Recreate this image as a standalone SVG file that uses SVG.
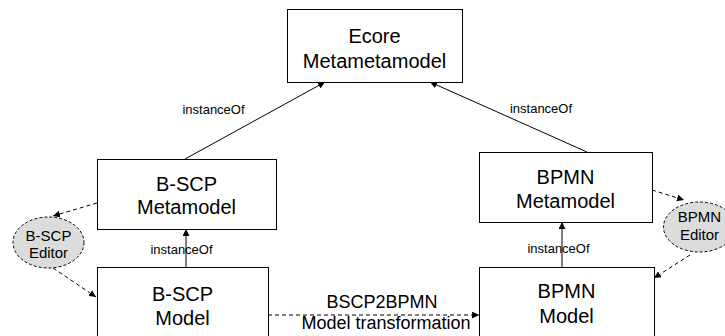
<svg xmlns="http://www.w3.org/2000/svg" width="725" height="336" viewBox="0 0 725 336">
<defs>
<marker id="ah" viewBox="0 0 8 8" refX="8" refY="4" markerWidth="7" markerHeight="7" markerUnits="userSpaceOnUse" orient="auto">
<path d="M0,0 L8,4 L0,8 z" fill="#000"/>
</marker>
</defs>
<style>
.box{fill:#fff;stroke:#000;stroke-width:1}
.ed{fill:#dcdcdc;stroke:#000;stroke-width:1;stroke-dasharray:3,2}
.t{font-family:"Liberation Sans",Arial,sans-serif;font-size:20px;fill:#000;text-anchor:middle}
.te{font-family:"Liberation Sans",Arial,sans-serif;font-size:15px;fill:#000;text-anchor:middle}
.tl{font-family:"Liberation Sans",Arial,sans-serif;font-size:13px;fill:#000;text-anchor:middle}
.tx{font-family:"Liberation Sans",Arial,sans-serif;font-size:18px;fill:#000;text-anchor:middle}
.c{stroke:#000;stroke-width:1;fill:none;marker-end:url(#ah)}
.d{stroke:#000;stroke-width:1;fill:none;stroke-dasharray:4,3;marker-end:url(#ah)}
</style>
<rect width="725" height="336" fill="#fff"/>
<g id="connectors">
<line class="c" x1="185" y1="159" x2="325" y2="82"/>
<line class="c" x1="587" y1="152" x2="430" y2="82"/>
<line class="c" x1="186" y1="267" x2="186" y2="229"/>
<line class="c" x1="562" y1="267" x2="562" y2="222"/>
<line class="d" x1="97" y1="203" x2="53" y2="216"/>
<line class="d" x1="53" y1="268" x2="96" y2="297"/>
<line class="d" x1="652" y1="190" x2="684" y2="200"/>
<line class="d" x1="690" y1="255" x2="654" y2="278"/>
<line class="d" x1="268" y1="315" x2="479" y2="315"/>
<text class="tl" x="213.5" y="114">instanceOf</text>
<text class="tl" x="541" y="113">instanceOf</text>
<text class="tl" x="181.5" y="254">instanceOf</text>
<text class="tl" x="558.5" y="253">instanceOf</text>
<text class="tx" x="382" y="308">BSCP2BPMN</text>
<text class="tx" x="386" y="329">Model transformation</text>
</g>
<g id="ecore">
<rect class="box" x="287.5" y="9.5" width="175" height="73"/>
<text class="t" x="374.5" y="43">Ecore</text>
<text class="t" x="374.5" y="68">Metametamodel</text>
</g>
<g id="bscp-metamodel">
<rect class="box" x="97.5" y="159.5" width="179" height="70"/>
<text class="t" x="186.5" y="191">B-SCP</text>
<text class="t" x="186.5" y="214">Metamodel</text>
</g>
<g id="bpmn-metamodel">
<rect class="box" x="479.5" y="152.5" width="173" height="70"/>
<text class="t" x="565.5" y="184">BPMN</text>
<text class="t" x="565.5" y="208">Metamodel</text>
</g>
<g id="bscp-model">
<rect class="box" x="97.5" y="267.5" width="171" height="80"/>
<text class="t" x="182.5" y="301">B-SCP</text>
<text class="t" x="182.5" y="325">Model</text>
</g>
<g id="bpmn-model">
<rect class="box" x="479.5" y="267.5" width="175" height="80"/>
<text class="t" x="566.5" y="298">BPMN</text>
<text class="t" x="566.5" y="323">Model</text>
</g>
<g id="bscp-editor">
<ellipse class="ed" cx="48.5" cy="242.5" rx="35.5" ry="25.5"/>
<text class="te" x="48.5" y="241">B-SCP</text>
<text class="te" x="48.5" y="258">Editor</text>
</g>
<g id="bpmn-editor">
<ellipse class="ed" cx="699.5" cy="227" rx="36" ry="25"/>
<text class="te" x="699.5" y="222">BPMN</text>
<text class="te" x="699.5" y="240">Editor</text>
</g>
</svg>
